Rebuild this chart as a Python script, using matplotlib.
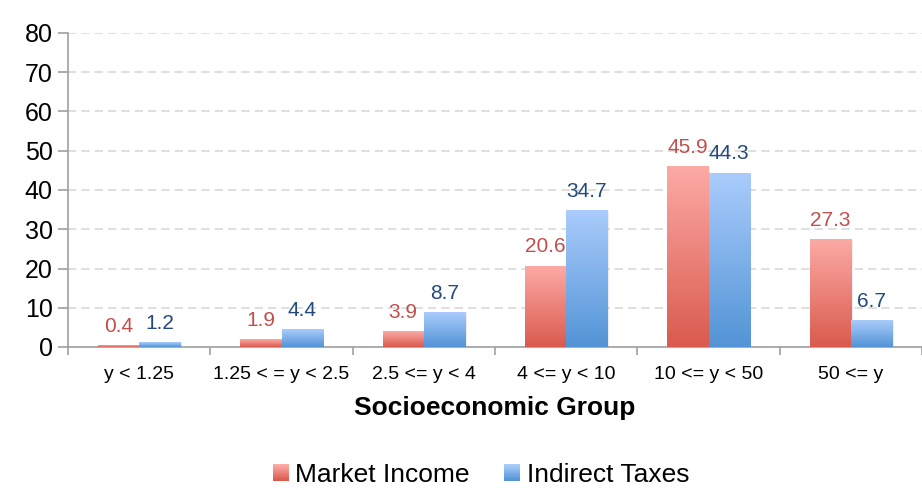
import numpy as np
import matplotlib
matplotlib.use("Agg")
import matplotlib.pyplot as plt
from matplotlib.colors import LinearSegmentedColormap
from matplotlib.patches import Rectangle
from matplotlib.legend_handler import HandlerBase

plt.rcParams['font.family'] = ['Liberation Sans', 'DejaVu Sans']

categories = ["y < 1.25", "1.25 < = y < 2.5", "2.5 <= y < 4",
              "4 <= y < 10", "10 <= y < 50", "50 <= y"]
market_income = [0.4, 1.9, 3.9, 20.6, 45.9, 27.3]
indirect_taxes = [1.2, 4.4, 8.7, 34.7, 44.3, 6.7]
series_names = ["Market Income", "Indirect Taxes"]
y_ticks = [0, 10, 20, 30, 40, 50, 60, 70, 80]

red_grad = ("#DA5A4E", "#FCAAA5")   # bottom, top
blue_grad = ("#5294D6", "#AACCFC")
red_text = "#C0504D"
blue_text = "#23497E"
axis_grey = "#A0A0A0"

fig = plt.figure(figsize=(9.22, 4.9), dpi=100)
ax = fig.add_axes([68 / 922, 143 / 490, 854 / 922, 314 / 490])

x = np.arange(len(categories)) + 0.5
w = 0.29

def gradient_bars(xpos, vals, grad, zorder=3):
    cmap = LinearSegmentedColormap.from_list("g", list(grad))
    bars = ax.bar(xpos, vals, width=w, color="none", edgecolor="none", zorder=zorder)
    grad_img = np.linspace(0, 1, 256).reshape(-1, 1)
    for b in bars:
        x0, y0 = b.get_x(), b.get_y()
        bw, bh = b.get_width(), b.get_height()
        # soft drop shadow on the right
        ax.add_patch(Rectangle((x0 + 0.012, y0), bw, bh, facecolor="#000000",
                               alpha=0.07, edgecolor="none", zorder=zorder - 0.5))
        ax.imshow(grad_img, cmap=cmap, origin="lower", aspect="auto",
                  extent=[x0, x0 + bw, y0, y0 + bh], zorder=zorder,
                  interpolation="bilinear")
    return bars

bars_r = gradient_bars(x - w / 2, market_income, red_grad)
bars_b = gradient_bars(x + w / 2, indirect_taxes, blue_grad, zorder=3.2)

for bars, vals, col in ((bars_r, market_income, red_text), (bars_b, indirect_taxes, blue_text)):
    for b, v in zip(bars, vals):
        ax.annotate(f"{v:.1f}", (b.get_x() + b.get_width() / 2, v),
                    xytext=(0, 7), textcoords="offset points",
                    ha="center", va="bottom", color=col, fontsize=15, zorder=5)

ax.set_xlim(0, len(categories))
ax.set_ylim(0, 80)
ax.set_yticks(y_ticks)
ax.set_yticklabels([str(t) for t in y_ticks], fontsize=18)
ax.yaxis.grid(True, color="#D9D9D9", linestyle=(0, (5, 3)), linewidth=1.2, zorder=0)
ax.set_axisbelow(True)

ax.set_xticks(x)
ax.set_xticklabels(categories, fontsize=14)
ax.set_xticks(np.arange(len(categories) + 1), minor=True)
ax.tick_params(axis="x", which="major", length=0, pad=14)
ax.tick_params(axis="x", which="minor", length=6, color=axis_grey, width=1.2)
ax.tick_params(axis="y", length=7, color=axis_grey, width=1.2, pad=4)

for s in ("top", "right"):
    ax.spines[s].set_visible(False)
for s in ("left", "bottom"):
    ax.spines[s].set_color(axis_grey)
    ax.spines[s].set_linewidth(1.2)

ax.set_xlabel("Socioeconomic Group", fontsize=19, fontweight="bold", labelpad=9)


class GradientHandler(HandlerBase):
    def __init__(self, grad):
        super().__init__()
        self.grad = grad

    def create_artists(self, legend, orig_handle, xdescent, ydescent, width,
                       height, fontsize, trans):
        cmap = LinearSegmentedColormap.from_list("g", list(self.grad))
        n = 20
        side = min(width, height * 1.1)
        x0 = -xdescent + (width - side)
        y0 = -ydescent + (height - side) / 2
        arts = []
        for i in range(n):
            arts.append(Rectangle((x0, y0 + side * i / n), side, side / n + 0.3,
                                  facecolor=cmap(i / (n - 1)), edgecolor="none",
                                  transform=trans))
        return arts


h_r = Rectangle((0, 0), 1, 1)
h_b = Rectangle((0, 0), 1, 1)
fig.legend([h_r, h_b], series_names, loc="center",
           bbox_to_anchor=(481 / 922, 15 / 490), ncol=2, frameon=False,
           fontsize=19, handlelength=0.6, handleheight=0.6, handletextpad=0.25,
           columnspacing=1.3,
           handler_map={h_r: GradientHandler(red_grad), h_b: GradientHandler(blue_grad)})

fig.savefig("out.png", dpi=100)
